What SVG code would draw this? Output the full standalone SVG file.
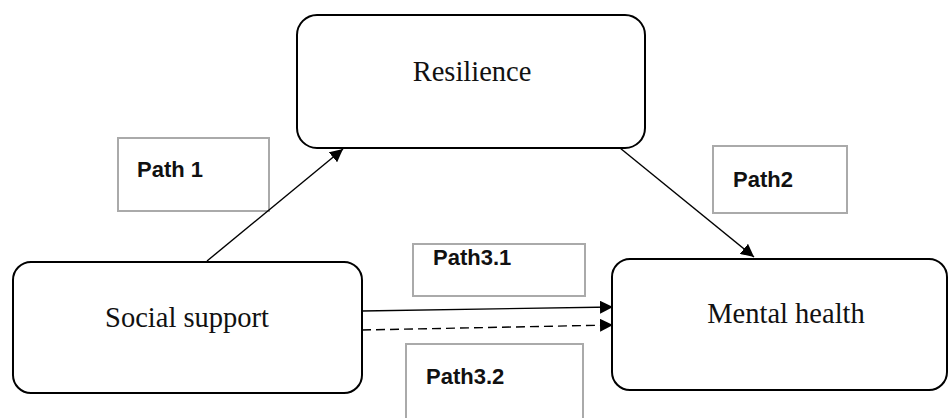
<svg xmlns="http://www.w3.org/2000/svg" width="948" height="418" viewBox="0 0 948 418">
<style>
.node{fill:#fff;stroke:#000;stroke-width:2}
.lbl{fill:#fff;stroke:#aaa;stroke-width:2}
.nt{font-family:"Liberation Serif","Times New Roman",serif;font-size:28.5px;fill:#111;text-anchor:middle}
.pt{font-family:"Liberation Sans",Arial,sans-serif;font-size:22px;font-weight:bold;fill:#111}
.c{stroke:#000;stroke-width:1.4;fill:none}
</style>
<defs>
<marker id="ah" viewBox="0 0 10 10" refX="10" refY="5" markerWidth="13" markerHeight="13" markerUnits="userSpaceOnUse" orient="auto">
<path d="M0,0 L10,5 L0,10 z" fill="#000"/>
</marker>
</defs>
<rect width="948" height="418" fill="#fff"/>
<g id="label-path1"><rect class="lbl" x="118" y="138" width="151" height="73"/><text class="pt" x="137" y="177">Path 1</text></g>
<g id="label-path2"><rect class="lbl" x="713" y="146" width="134" height="67"/><text class="pt" x="733" y="187">Path2</text></g>
<g id="label-path31"><rect class="lbl" x="413" y="244" width="172" height="52"/><text class="pt" x="433" y="265">Path3.1</text></g>
<g id="label-path32"><rect class="lbl" x="406" y="344" width="177" height="80"/><text class="pt" x="426" y="384">Path3.2</text></g>
<g id="connectors">
<line class="c" x1="207" y1="261" x2="343" y2="149" marker-end="url(#ah)"/>
<line class="c" x1="620" y1="148" x2="754" y2="257" marker-end="url(#ah)"/>
<line class="c" x1="362" y1="311" x2="613" y2="307" marker-end="url(#ah)"/>
<line class="c" x1="362" y1="330" x2="613" y2="325" stroke-dasharray="9,5" marker-end="url(#ah)"/>
</g>
<g id="node-resilience"><rect class="node" x="297" y="15" width="348" height="133" rx="20"/><text class="nt" x="472" y="81">Resilience</text></g>
<g id="node-social"><rect class="node" x="13" y="262" width="349" height="131" rx="18"/><text class="nt" x="187" y="327">Social support</text></g>
<g id="node-mental"><rect class="node" x="612" y="259" width="335" height="131" rx="18"/><text class="nt" x="786" y="323">Mental health</text></g>
</svg>
